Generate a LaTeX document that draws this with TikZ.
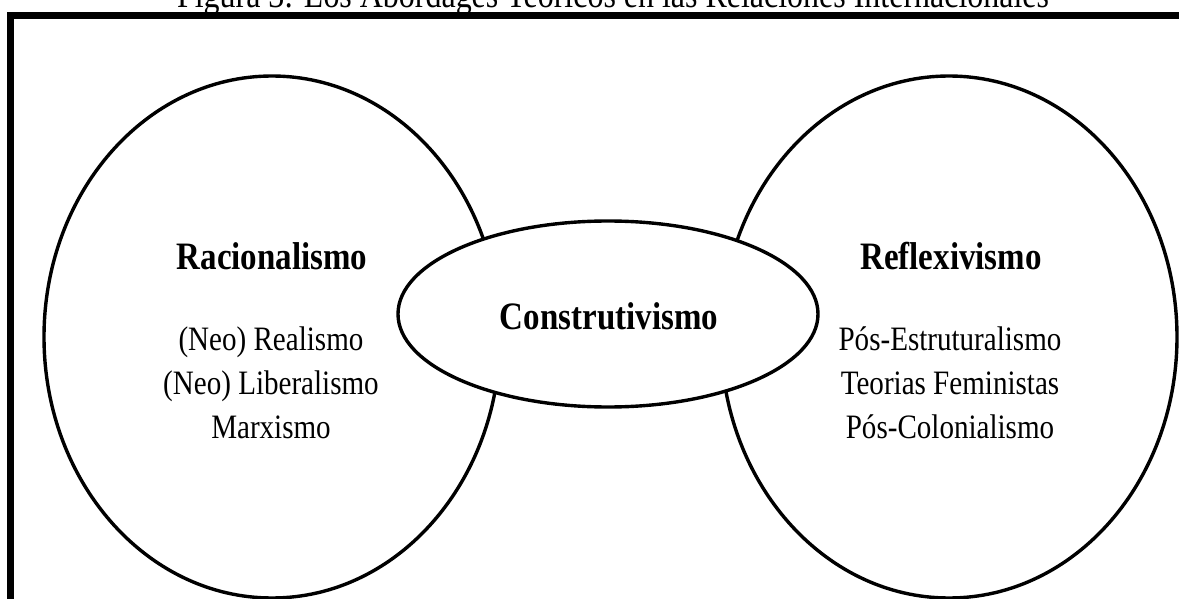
\documentclass[tikz,border=0pt]{standalone}
\usepackage{fontspec}
\setmainfont{Liberation Serif}[FakeStretch=0.85]
\usetikzlibrary{shapes.geometric}

\tikzset{
  bubble/.style={draw, ellipse, line width=1.7pt, inner sep=0pt},
  head/.style={font=\fontsize{19.4}{23}\selectfont\bfseries, anchor=base, inner sep=0pt},
  item/.style={font=\fontsize{17.1}{22}\selectfont, anchor=base, inner sep=0pt}
}

\begin{document}
\begin{tikzpicture}[x=0.5pt,y=-0.5pt]
		\useasboundingbox (0,0) rectangle (1179,599);
		\clip (0,0) rectangle (1179,599);

		% Title, cut by the top of the page
		\node[font=\fontsize{18.8}{22}\selectfont, anchor=base, inner sep=0pt] (titulo) at (613,8) {Figura 3: Los Abordages Teóricos en las Relaciones Internacionales};

		% Frame
		\draw[line width=3.5pt] (10.5,15.5) rectangle (1200,620);

		% Big ellipses
		\node[bubble, minimum width=228pt, minimum height=261pt] (raci) at (272,337) {};
		\node[bubble, minimum width=228pt, minimum height=261pt] (refl) at (949,337) {};

		% Middle ellipse on top
		\node[bubble, fill=white, minimum width=210pt, minimum height=93pt] (cons) at (608,314) {};

		% Texts
		\node[head] (racih) at (272,270) {Racionalismo};
		\node[item] (raci1) at (271,350) {(Neo) Realismo};
		\node[item] (raci2) at (271,394) {(Neo) Liberalismo};
		\node[item] (raci3) at (271,438) {Marxismo};

		\node[head] (reflh) at (951,270) {Reflexivismo};
		\node[item] (refl1) at (950,350) {Pós-Estruturalismo};
		\node[item] (refl2) at (950,394) {Teorias Feministas};
		\node[item] (refl3) at (950,438) {Pós-Colonialismo};

		\node[head] (consh) at (609,329) {Construtivismo};
	\end{tikzpicture}
\end{document}
